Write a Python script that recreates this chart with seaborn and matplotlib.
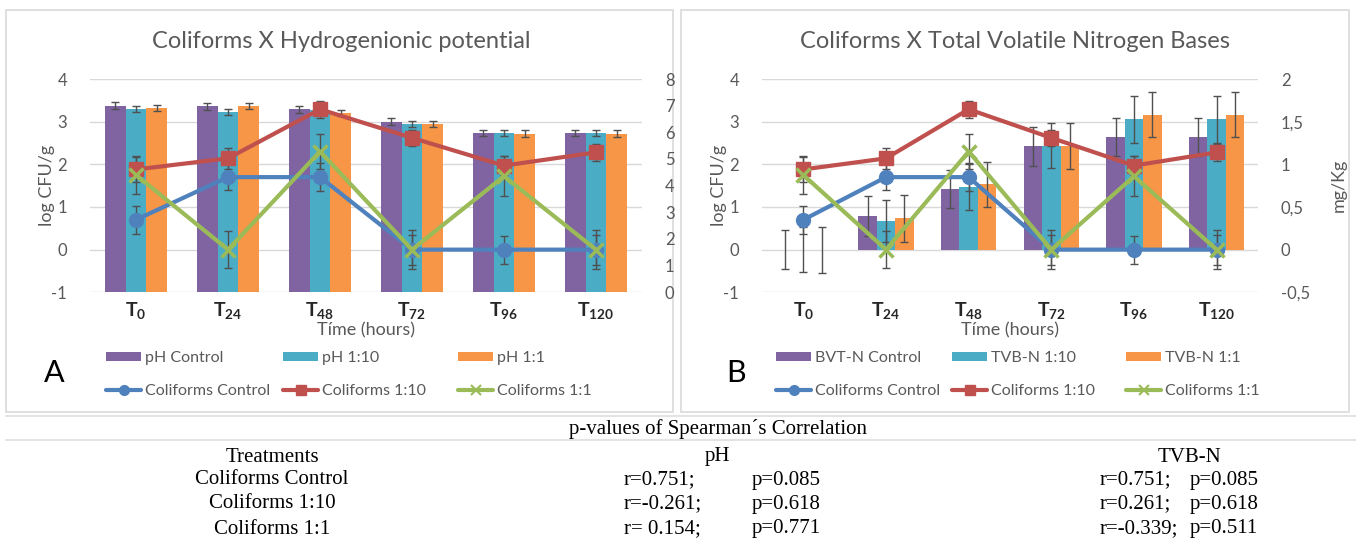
import numpy as np
import pandas as pd
import matplotlib
matplotlib.use("Agg")
import matplotlib.pyplot as plt
from matplotlib.lines import Line2D
from matplotlib.patches import Patch, Rectangle
import seaborn as sns

# --- data -------------------------------------------------------------
TIME_SUB = ["0", "24", "48", "72", "96", "120"]

# coliforms (log CFU/g) - same series in both panels
COLI_CONTROL = [0.70, 1.70, 1.70, 0.00, 0.00, 0.00]
COLI_CONTROL_ERR = [0.33, 0.30, 0.32, 0.35, 0.33, 0.35]
COLI_1_10 = [1.88, 2.14, 3.29, 2.62, 1.97, 2.28]
COLI_1_10_ERR = [0.30, 0.24, 0.20, 0.18, 0.22, 0.20]
COLI_1_1 = [1.75, 0.00, 2.30, 0.00, 1.72, 0.00]
COLI_1_1_ERR = [0.45, 0.43, 0.42, 0.45, 0.47, 0.45]

# pH
PH_CONTROL = [7.00, 6.97, 6.86, 6.40, 5.97, 5.97]
PH_CONTROL_ERR = [0.12, 0.12, 0.12, 0.13, 0.12, 0.12]
PH_1_10 = [6.87, 6.76, 6.85, 6.32, 5.97, 5.97]
PH_1_10_ERR = [0.10, 0.12, 0.12, 0.12, 0.11, 0.11]
PH_1_1 = [6.91, 6.98, 6.73, 6.32, 5.95, 5.95]
PH_1_1_ERR = [0.11, 0.11, 0.12, 0.12, 0.12, 0.12]

# TVB-N (mg/Kg)
TVB_CONTROL = [0.00, 0.39, 0.71, 1.21, 1.32, 1.32]
TVB_CONTROL_ERR = [0.23, 0.235, 0.225, 0.23, 0.225, 0.225]
TVB_1_10 = [0.00, 0.335, 0.735, 1.22, 1.53, 1.53]
TVB_1_10_ERR = [0.26, 0.25, 0.27, 0.265, 0.275, 0.275]
TVB_1_1 = [0.00, 0.365, 0.765, 1.21, 1.58, 1.58]
TVB_1_1_ERR = [0.27, 0.27, 0.265, 0.27, 0.265, 0.265]

PH_LABELS = ["pH Control", "pH 1:10", "pH 1:1"]
TVB_LABELS = ["BVT-N Control", "TVB-N 1:10", "TVB-N 1:1"]
COLI_LABELS = ["Coliforms Control", "Coliforms 1:10", "Coliforms 1:1"]

LEFT_TICKS = [-1, 0, 1, 2, 3, 4]
PH_TICKS = [0, 1, 2, 3, 4, 5, 6, 7, 8]
TVB_TICKS = [-0.5, 0, 0.5, 1, 1.5, 2]
TVB_TICKLABELS = ["-0,5", "0", "0,5", "1", "1,5", "2"]

TABLE_TITLE = "p-values of Spearman´s Correlation"
TABLE_HEADER = ["Treatments", "pH", "TVB-N"]
TABLE_ROWS = ["Coliforms Control", "Coliforms 1:10", "Coliforms 1:1"]
PH_R = ["r=0.751;", "r=-0.261;", "r= 0.154;"]
PH_P = ["p=0.085", "p=0.618", "p=0.771"]
TVB_R = ["r=0.751;", "r=0.261;", "r=-0.339;"]
TVB_P = ["p=0.085", "p=0.618", "p=0.511"]

BAR_COLORS = ["#8064A2", "#4BACC6", "#F79646"]
LINE_COLORS = ["#4F81BD", "#C0504D", "#9BBB59"]
MARKERS = ["o", "s", "x"]
GRAY = "#595959"
ERR_COLOR = "#505050"

W, H = 1356, 541


def rect_px(x0, x1, ytop, ybot):
    return [x0 / W, 1 - ybot / H, (x1 - x0) / W, (ybot - ytop) / H]


def draw_panel(fig, rect, bar_vals, bar_errs, bar_labels, r_lim, r_ticks,
               r_ticklabels, r_ylabel):
    cats = [rf"$\mathbf{{T}}_{{\mathbf{{{s}}}}}$" for s in TIME_SUB]
    pos = np.arange(len(cats))

    ax_bg = fig.add_axes(rect)
    ax_l = fig.add_axes(rect, sharex=ax_bg)
    ax_r = ax_l.twinx()
    ax_bg.set_zorder(0)
    ax_r.set_zorder(1)
    ax_l.set_zorder(2)
    ax_l.patch.set_visible(False)
    ax_r.patch.set_visible(False)

    # gridlines behind everything
    ax_bg.set_ylim(-1, 4)
    ax_bg.set_yticks(LEFT_TICKS)
    ax_bg.grid(axis="y", color="#D9D9D9", linewidth=1)
    ax_bg.grid(axis="x", visible=False)
    ax_bg.tick_params(left=False, bottom=False, labelleft=False, labelbottom=False)

    # bars
    df = pd.DataFrame({
        "time": np.repeat([cats], 3, axis=0).ravel(),
        "group": np.repeat(bar_labels, len(cats)),
        "value": np.concatenate(bar_vals),
    })
    sns.barplot(data=df, x="time", y="value", hue="group", hue_order=bar_labels,
                order=cats, palette=BAR_COLORS, width=0.67, saturation=1,
                errorbar=None, legend=False, linewidth=0, ax=ax_r)
    for cont, err in zip(ax_r.containers, bar_errs):
        xs = [b.get_x() + b.get_width() / 2 for b in cont]
        ys = [b.get_height() for b in cont]
        ax_r.errorbar(xs, ys, yerr=err, fmt="none", ecolor=ERR_COLOR,
                      elinewidth=1, capsize=3, capthick=1)
    ax_r.set_ylim(*r_lim)
    ax_r.set_yticks(r_ticks)
    ax_r.set_yticklabels(r_ticklabels)
    ax_r.set_xlabel("")
    ax_r.set_ylabel(r_ylabel, color=GRAY, fontsize=13)
    ax_r.tick_params(axis="y", right=False, pad=10.5, labelsize=12, labelcolor=GRAY)

    # coliform lines
    coli = [(COLI_CONTROL, COLI_CONTROL_ERR), (COLI_1_10, COLI_1_10_ERR),
            (COLI_1_1, COLI_1_1_ERR)]
    for (vals, err), c, m in zip(coli, LINE_COLORS, MARKERS):
        ax_l.errorbar(pos, vals, yerr=err, fmt="none", ecolor=ERR_COLOR,
                      elinewidth=1, capsize=3, capthick=1, zorder=3)
        sns.lineplot(x=pos, y=vals, ax=ax_l, color=c, linewidth=3, marker=m,
                     markersize=10, markeredgecolor=c,
                     markeredgewidth=2.5 if m == "x" else 1, zorder=4)
    ax_l.set_ylim(-1, 4)
    ax_l.set_yticks(LEFT_TICKS)
    ax_l.set_xlim(-0.5, len(cats) - 0.5)
    ax_l.set_xticks(pos)
    ax_l.set_xticklabels(cats)
    ax_l.set_ylabel("log CFU/g", color=GRAY, fontsize=13)
    ax_l.yaxis.set_label_coords(-0.063 * 552 / (rect[2] * W), 0.5)
    ax_l.set_xlabel("Tíme (hours)", color=GRAY, fontsize=13, labelpad=0)
    ax_l.tick_params(axis="y", left=False, pad=10.5, labelsize=12, labelcolor=GRAY)
    ax_l.tick_params(axis="x", bottom=False, pad=0, labelsize=14, labelcolor="#262626")
    ax_r.tick_params(axis="x", bottom=False, labelbottom=False)

    for a in (ax_bg, ax_l, ax_r):
        for sp in a.spines.values():
            sp.set_visible(False)
    return ax_l, ax_r


def add_legends(fig, xs, y_top, bar_labels):
    for i, x in enumerate(xs):
        handles = [Patch(facecolor=BAR_COLORS[i], edgecolor="none"),
                   Line2D([], [], color=LINE_COLORS[i], linewidth=3,
                          marker=MARKERS[i], markersize=7,
                          markeredgewidth=1.5 if MARKERS[i] == "x" else 1)]
        fig.legend(handles, [bar_labels[i], COLI_LABELS[i]], loc="upper left",
                   bbox_to_anchor=(x / W, 1 - y_top / H), frameon=False,
                   fontsize=11.5, labelcolor=GRAY, handlelength=2.2,
                   handleheight=0.5, handletextpad=0.25, labelspacing=1.2,
                   borderpad=0, borderaxespad=0)


def main():
    sns.set_theme(style="white")
    plt.rcParams["font.family"] = ["Lato", "DejaVu Sans"]
    plt.rcParams["mathtext.fontset"] = "custom"
    plt.rcParams["mathtext.rm"] = "Lato"
    plt.rcParams["mathtext.bf"] = "Lato:bold"
    plt.rcParams["axes.unicode_minus"] = False

    fig = plt.figure(figsize=(W / 100, H / 100), dpi=100)

    # panel frames
    for x0, x1 in [(6, 673), (681, 1349)]:
        fig.add_artist(Rectangle((x0 / W, 1 - 412 / H), (x1 - x0) / W, 402 / H,
                                 transform=fig.transFigure, fill=False,
                                 edgecolor="#D9D9D9", linewidth=1.2))
    for y in (416, 440):
        fig.add_artist(Line2D([6 / W, 1], [1 - y / H, 1 - y / H],
                              transform=fig.transFigure, color="#E3E3E3",
                              linewidth=1.5))

    draw_panel(fig, rect_px(90, 642, 79, 292.3),
               [PH_CONTROL, PH_1_10, PH_1_1],
               [PH_CONTROL_ERR, PH_1_10_ERR, PH_1_1_ERR],
               PH_LABELS, (0, 8), PH_TICKS, [str(t) for t in PH_TICKS], "")
    ax_l, ax_r = draw_panel(fig, rect_px(762, 1258, 79, 292.3),
                            [TVB_CONTROL, TVB_1_10, TVB_1_1],
                            [TVB_CONTROL_ERR, TVB_1_10_ERR, TVB_1_1_ERR],
                            TVB_LABELS, (-0.5, 2), TVB_TICKS, TVB_TICKLABELS,
                            "mg/Kg")
    ax_r.yaxis.set_label_coords((1331 - 762) / 496, 0.5)

    fig.text(341 / W, 1 - 42 / H, "Coliforms X Hydrogenionic potential",
             ha="center", va="center", fontsize=17, color=GRAY)
    fig.text(1015 / W, 1 - 42 / H, "Coliforms X Total Volatile Nitrogen Bases",
             ha="center", va="center", fontsize=17, color=GRAY)

    add_legends(fig, [106, 283, 458], 351, PH_LABELS)
    add_legends(fig, [776, 952, 1126], 351, TVB_LABELS)
    fig.text(54 / W, 1 - 373 / H, "A", ha="center", va="center", fontsize=22,
             color="black")
    fig.text(736 / W, 1 - 373 / H, "B", ha="center", va="center", fontsize=22,
             color="black")

    # correlation table
    serif = dict(family=["Liberation Serif", "DejaVu Serif"], fontsize=15,
                 color="black", va="center")
    fig.text(718 / W, 1 - 429 / H, TABLE_TITLE, ha="center", **serif)
    for txt, x in zip(TABLE_HEADER, [272, 717, 1190]):
        fig.text(x / W, 1 - 457 / H, txt, ha="center", **serif)
    for i, y in enumerate([480, 504, 529]):
        fig.text(272 / W, 1 - y / H, TABLE_ROWS[i], ha="center", **serif)
        fig.text(624 / W, 1 - y / H, PH_R[i], ha="left", **serif)
        fig.text(752 / W, 1 - y / H, PH_P[i], ha="left", **serif)
        fig.text(1100 / W, 1 - y / H, TVB_R[i], ha="left", **serif)
        fig.text(1190 / W, 1 - y / H, TVB_P[i], ha="left", **serif)

    fig.savefig("out.png", dpi=100)


if __name__ == "__main__":
    main()
